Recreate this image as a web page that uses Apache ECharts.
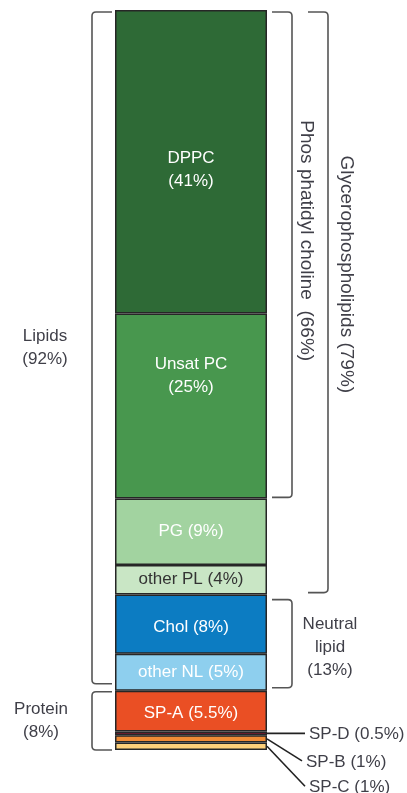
<!DOCTYPE html>
<html>
<head>
<meta charset="utf-8">
<script src="https://cdn.jsdelivr.net/npm/echarts@6/dist/echarts.min.js"></script>
<style>
html, body { margin: 0; padding: 0; background: #fff; }
#main { width: 407px; height: 793px; }
</style>
</head>
<body>
<div id="main"></div>
<script>
// composition of surfactant, % by weight
var segNames = ['DPPC', 'Unsat PC', 'PG', 'other PL', 'Chol', 'other NL', 'SP-A', 'SP-D', 'SP-B', 'SP-C'];
var segValues = [41, 25, 9, 4, 8, 5, 5.5, 0.5, 1, 1];

// brackets: which segments each one spans
var groupNames = ['Lipids', 'Protein', 'Phos phatidyl choline ', 'Glycerophospholipids', 'Neutral\nlipid'];
var groupFirst = [0, 6, 0, 0, 4];
var groupLast = [5, 9, 1, 3, 5];

// small segments labelled outside with a leader line
var calloutSegs = [7, 8, 9];

// ---- styles ----
var segColors = ['#2e6a36', '#48974e', '#a2d3a0', '#c9e6c5', '#0c7cc2', '#8ecfee', '#ea4f24', '#7e1a30', '#ef8b35', '#fdd07a'];
var segText = ['#fff', '#fff', '#fff', '#333', '#fff', '#fff', '#fff'];
var segLabelDy = [8, -30, 0, 0, 3, 0, 2];
var FONT = '"Liberation Sans", Arial, sans-serif';
var TXT = '#3f3f48';

var grpSide = ['left', 'left', 'right', 'right', 'right'];
var grpGap = [23, 23, 25, 61, 25];
var grpInset = [[2, 7], [1, 0], [2, 1], [2, 2], [5, 3]];
var grpLabelPos = [[-47, 0], [-51, 0], [14, -14], [18, -28], [38, 4]];
var grpRotate = [0, 0, -90, -90, 0];
var calloutDy = [0, 22, 40];
var calloutLen = [38, 35, 38];

var cum = [];
var acc = 0;
for (var i = 0; i < segValues.length; i++) {
    cum.push(acc);
    acc += segValues[i];
}
function pct(v) { return Math.round(v * 10) / 10 + '%'; }

var series = [];
segNames.forEach(function (name, i) {
    series.push({
        type: 'bar',
        name: name,
        stack: 'all',
        barWidth: '100%',
        data: [segValues[i]],
        itemStyle: { color: segColors[i], borderColor: '#262626', borderWidth: 1.5 },
        label: {
            show: i < 7,
            position: 'inside',
            offset: [0, segLabelDy[i] || 0],
            color: segText[i],
            fontFamily: FONT,
            fontSize: 17,
            lineHeight: 23,
            formatter: name + (i < 2 ? '\n' : ' ') + '(' + pct(segValues[i]) + ')'
        }
    });
});

// brackets + their labels
var groupData = groupNames.map(function (g, i) {
    var end = cum[groupLast[i]] + segValues[groupLast[i]];
    return [0, cum[groupFirst[i]], end, i];
});

series.push({
    type: 'custom',
    name: 'groups',
    encode: { x: 0, y: [1, 2] },
    data: groupData,
    clip: false,
    z: 5,
    renderItem: function (params, api) {
        var i = api.value(3);
        var cx = api.coord([0, 0])[0];
        var bw = api.size([1, 0])[0];
        var y0 = api.coord([0, api.value(1)])[1] + grpInset[i][0];
        var y1 = api.coord([0, api.value(2)])[1] - grpInset[i][1];
        var left = grpSide[i] == 'left';
        var lx = left ? cx - bw / 2 - grpGap[i] : cx + bw / 2 + grpGap[i];
        var arm = left ? 20 : -20;
        var r = left ? 4 : -4;
        var d = 'M' + (lx + arm) + ' ' + y0 + ' L' + (lx + r) + ' ' + y0 +
            ' Q' + lx + ' ' + y0 + ' ' + lx + ' ' + (y0 + 4) +
            ' L' + lx + ' ' + (y1 - 4) +
            ' Q' + lx + ' ' + y1 + ' ' + (lx + r) + ' ' + y1 +
            ' L' + (lx + arm) + ' ' + y1;
        var sum = api.value(2) - api.value(1);
        var txt = groupNames[i] + (grpRotate[i] ? ' ' : '\n') + '(' + pct(sum) + ')';
        return {
            type: 'group',
            children: [{
                type: 'path',
                shape: { pathData: d },
                style: { stroke: '#555', lineWidth: 1.6, fill: null }
            }, {
                type: 'text',
                x: lx + grpLabelPos[i][0],
                y: (y0 + y1) / 2 + grpLabelPos[i][1],
                rotation: grpRotate[i] * Math.PI / 180,
                style: {
                    text: txt,
                    fill: TXT,
                    font: (grpRotate[i] ? 19 : 17) + 'px ' + FONT,
                    align: 'center',
                    verticalAlign: 'middle',
                    lineHeight: grpRotate[i] ? 19 : 23
                }
            }]
        };
    }
});

// leader lines for SP-D, SP-B, SP-C
series.push({
    type: 'custom',
    name: 'callouts',
    encode: { x: 0, y: 1 },
    data: calloutSegs.map(function (s, k) { return [0, cum[s] + segValues[s] / 2, s, k]; }),
    clip: false,
    z: 5,
    renderItem: function (params, api) {
        var s = api.value(2), k = api.value(3);
        var pt = api.coord([0, api.value(1)]);
        var x0 = pt[0] + api.size([1, 0])[0] / 2;
        var y0 = pt[1];
        var x1 = x0 + calloutLen[k];
        var y1 = y0 + calloutDy[k];
        return {
            type: 'group',
            children: [{
                type: 'line',
                shape: { x1: x0, y1: y0, x2: x1, y2: y1 },
                style: { stroke: '#222', lineWidth: 1.6 }
            }, {
                type: 'text',
                x: x1 + 4,
                y: y1 + 1,
                style: {
                    text: segNames[s] + ' (' + pct(segValues[s]) + ')',
                    fill: TXT,
                    font: '17px ' + FONT,
                    align: 'left',
                    verticalAlign: 'middle'
                }
            }]
        };
    }
});

var myChart = echarts.init(document.getElementById('main'));
myChart.setOption({
    animation: false,
    backgroundColor: '#fff',
    grid: { left: 115, top: 10, width: 152, height: 740 },
    xAxis: { type: 'category', data: ['surfactant'], show: false },
    yAxis: { type: 'value', min: 0, max: 100, inverse: true, show: false },
    series: series
});
</script>
</body>
</html>
